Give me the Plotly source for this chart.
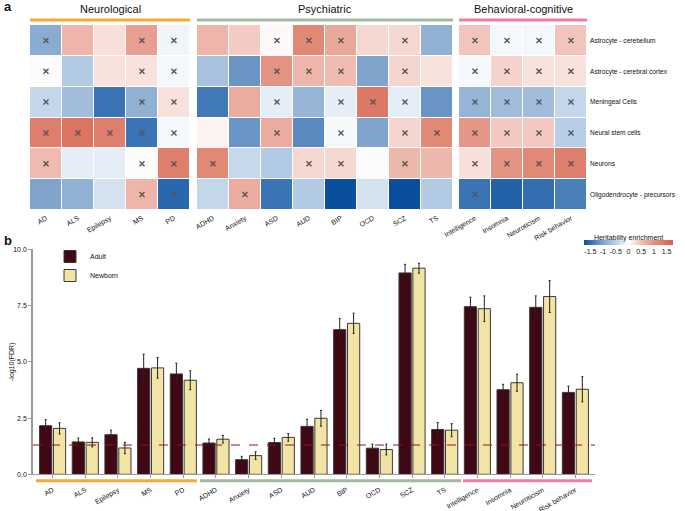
import plotly.graph_objects as go

W, H = 685, 511
def px(x): return x / W
def py(y): return 1 - y / H

neuro = ["AD", "ALS", "Epilepsy", "MS", "PD"]
psych = ["ADHD", "Anxiety", "ASD", "AUD", "BIP", "OCD", "SCZ", "TS"]
behav = ["Intelligence", "Insomnia", "Neuroticism", "Risk behavior"]
traits = neuro + psych + behav
cell_types = ["Astrocyte - cerebellum", "Astrocyte - cerebral cortex", "Meningeal Cells",
              "Neural stem cells", "Neurons", "Oligodendrocyte - precursors"]

# heritability enrichment (rows = cell types, columns = traits)
enrich = [
    [-0.9, 0.6, 0.25, 0.85, -0.1, 0.6, 0.4, 0.05, 1.15, 0.75, 0.3, 0.3, -0.85, 0.45, -0.08, -0.08, 0.45],
    [0.03, -0.55, 0.22, 0.22, -0.08, -0.65, -1.15, 1.0, 0.6, 0.55, -1.0, 0.32, 0.22, -0.08, 0.35, 0.22, 0.22],
    [-0.42, -0.7, -1.45, -0.85, 0.22, -1.4, 0.7, -0.18, -0.8, -0.18, 1.4, -0.18, -1.15, -0.8, -0.7, -0.7, -0.42],
    [1.3, 1.45, 1.3, -1.45, -0.08, 0.1, -1.15, 0.72, -1.25, -0.06, -1.0, 0.32, 1.15, 0.95, 0.42, 0.42, -0.5],
    [0.55, -0.18, -0.18, 0.03, 1.3, 1.15, -0.4, -0.55, 0.3, 0.3, 0.03, 0.58, 0.58, 0.25, 1.0, 1.15, 1.3],
    [-1.0, -0.85, -0.3, 0.6, -1.55, -0.42, 0.7, -1.45, -0.55, -1.75, -0.3, -1.75, -0.55, -1.45, -1.6, -1.5, -1.35],
]
# cells marked with a cross
marked = [
    [1, 0, 0, 1, 1, 0, 0, 1, 1, 1, 0, 1, 0, 1, 1, 1, 1],
    [1, 0, 0, 1, 1, 0, 0, 1, 1, 1, 0, 1, 0, 1, 1, 1, 1],
    [1, 0, 0, 1, 1, 0, 0, 1, 0, 1, 1, 1, 0, 1, 1, 1, 1],
    [1, 1, 1, 1, 1, 0, 0, 1, 0, 1, 0, 1, 1, 1, 1, 1, 1],
    [1, 0, 0, 1, 1, 1, 0, 0, 1, 1, 0, 1, 0, 1, 1, 1, 1],
    [0, 0, 0, 1, 1, 0, 1, 0, 0, 0, 0, 0, 0, 1, 0, 0, 0],
]

# -log10(FDR)
adult = [2.16, 1.44, 1.76, 4.71, 4.46, 1.39, 0.65, 1.41, 2.13, 6.43, 1.16, 8.95, 1.99, 7.45, 3.76, 7.42, 3.64]
adult_err = [0.27, 0.17, 0.2, 0.63, 0.48, 0.18, 0.15, 0.19, 0.32, 0.49, 0.18, 0.38, 0.31, 0.42, 0.24, 0.51, 0.28]
newborn = [2.04, 1.42, 1.17, 4.73, 4.18, 1.56, 0.83, 1.64, 2.49, 6.71, 1.1, 9.16, 1.96, 7.36, 4.07, 7.9, 3.78]
newborn_err = [0.25, 0.2, 0.25, 0.46, 0.42, 0.17, 0.17, 0.17, 0.35, 0.45, 0.24, 0.22, 0.29, 0.57, 0.38, 0.71, 0.56]
fdr_threshold = 1.301

groups = ["Neurological", "Psychiatric", "Behavioral-cognitive"]
group_traits = [neuro, psych, behav]
group_colors = ["#F7A936", "#A3B7A1", "#F57AA6"]

colorscale = [[0.0, "#0a4f9e"], [0.0857, "#3a74b4"], [0.2143, "#80a4cc"], [0.357, "#b8cee6"],
              [0.5, "#ffffff"], [0.643, "#f0beb4"], [0.786, "#e49282"], [1.0, "#d6604d"]]

FONT = "Liberation Sans, Arial, sans-serif"
fig = go.Figure()

offset = 0
for gi, tl in enumerate(group_traits):
    n = len(tl)
    z = [row[offset:offset + n] for row in enrich]
    xa = "x" if gi == 0 else f"x{gi + 1}"
    fig.add_trace(go.Heatmap(
        z=z, x=tl, y=cell_types, xaxis=xa, yaxis="y",
        colorscale=colorscale, zmin=-1.75, zmax=1.75, xgap=1, ygap=1,
        showscale=(gi == 0), hoverinfo="skip",
        colorbar=dict(orientation="h", x=px(628.5), xanchor="center", y=py(241.5), yanchor="middle",
                      len=89, lenmode="pixels", thickness=5, outlinewidth=0,
                      title=dict(text="Heritability enrichment", side="top", font=dict(size=7, family=FONT)),
                      tickvals=[-1.5, -1, -0.5, 0, 0.5, 1, 1.5],
                      ticktext=["-1.5", "-1", "-0.5", "0", "0.5", "1", "1.5"],
                      ticks="", tickfont=dict(size=7, family=FONT), ypad=0, xpad=0),
    ))
    mx, my = [], []
    for r, ct in enumerate(cell_types):
        for c, t in enumerate(tl):
            if marked[r][offset + c]:
                mx.append(t); my.append(ct)
    fig.add_trace(go.Scatter(x=mx, y=my, xaxis=xa, yaxis="y", mode="markers",
                             marker=dict(symbol="x-thin", size=5, line=dict(width=1.4, color="#555555")),
                             showlegend=False, hoverinfo="skip"))
    offset += n

fig.add_trace(go.Bar(x=traits, y=adult, name="Adult", xaxis="x4", yaxis="y4",
                     marker=dict(color="#400714", line=dict(color="#3a3a3a", width=1)),
                     error_y=dict(type="data", array=adult_err, color="#222222", thickness=1, width=1)))
fig.add_trace(go.Bar(x=traits, y=newborn, name="Newborn", xaxis="x4", yaxis="y4",
                     marker=dict(color="#F2E4A4", line=dict(color="#3a3a3a", width=1)),
                     error_y=dict(type="data", array=newborn_err, color="#222222", thickness=1, width=1)))

hx_domains = [[px(30), px(190)], [px(197), px(453)], [px(459), px(587)]]
hy_domain = [py(210), py(25)]
tickfont = dict(size=7, family=FONT, color="#111111")
axcommon = dict(showgrid=False, zeroline=False, showline=False, ticks="", tickangle=-30,
                tickfont=tickfont, type="category", automargin=False, ticklabelstandoff=2)
layout = dict(
    width=W, height=H, margin=dict(l=0, r=0, t=0, b=0, autoexpand=False),
    paper_bgcolor="white", plot_bgcolor="white",
    font=dict(family=FONT, color="#111111"),
    barmode="group", bargap=0.15, bargroupgap=0.12,
    xaxis=dict(domain=hx_domains[0], anchor="y", **axcommon),
    xaxis2=dict(domain=hx_domains[1], anchor="y", **axcommon),
    xaxis3=dict(domain=hx_domains[2], anchor="y", **axcommon),
    yaxis=dict(domain=hy_domain, anchor="x3", side="right", autorange="reversed", showgrid=False,
               zeroline=False, ticks="", tickfont=dict(size=6.6, family=FONT, color="#111111"),
               type="category", automargin=False, ticklabelstandoff=2),
    xaxis4=dict(domain=[px(33), px(595)], anchor="y4", type="category", range=[-0.6, 16.6],
                showline=True, linecolor="#9a9a9a", linewidth=1, ticks="outside", ticklen=3,
                tickcolor="#9a9a9a", tickangle=-30, tickfont=tickfont, ticklabelstandoff=5,
                showgrid=False, zeroline=False, automargin=False),
    yaxis4=dict(domain=[py(474.3), py(249.3)], anchor="x4", range=[0, 10.0],
                tickvals=[0, 2.5, 5, 7.5, 10], ticktext=["0.0", "2.5", "5.0", "7.5", "10.0"],
                showline=True, linecolor="#9a9a9a", linewidth=1.5, ticks="outside", ticklen=3,
                tickcolor="#9a9a9a", tickfont=tickfont, showgrid=False, zeroline=False,
                automargin=False),
    legend=dict(x=px(50), y=py(242), xanchor="left", yanchor="top", font=dict(size=7, family=FONT),
                bgcolor="rgba(0,0,0,0)", tracegroupgap=0),
    showlegend=True,
)
fig.update_layout(**layout)

shapes = []
annotations = []
for gi, (g, col) in enumerate(zip(groups, group_colors)):
    d = hx_domains[gi]
    shapes.append(dict(type="rect", xref="paper", yref="paper", x0=d[0], x1=d[1],
                       y0=py(21.5), y1=py(18.5), fillcolor=col, line=dict(width=0)))
    annotations.append(dict(text=g, xref="paper", yref="paper", x=(d[0] + d[1]) / 2, y=py(9),
                            showarrow=False, font=dict(size=11, family=FONT, color="#111111"),
                            xanchor="center", yanchor="middle"))
for (x0, x1), col in zip([(36, 197), (200, 461), (463, 592)], group_colors):
    shapes.append(dict(type="rect", xref="paper", yref="paper", x0=px(x0), x1=px(x1),
                       y0=py(482.2), y1=py(479.2), fillcolor=col, line=dict(width=0)))
shapes.append(dict(type="line", xref="x4 domain", yref="y4", x0=0, x1=1, y0=fdr_threshold,
                   y1=fdr_threshold, line=dict(color="#8b1a1a", width=1, dash="dash")))
annotations.append(dict(text="-log10(FDR)", xref="paper", yref="paper", x=px(12), y=py(362),
                        showarrow=False, textangle=-90, font=dict(size=7, family=FONT),
                        xanchor="center", yanchor="middle"))
annotations.append(dict(text="<b>a</b>", xref="paper", yref="paper", x=px(2), y=py(6), showarrow=False,
                        font=dict(size=13, family=FONT), xanchor="left", yanchor="middle"))
annotations.append(dict(text="<b>b</b>", xref="paper", yref="paper", x=px(2), y=py(241), showarrow=False,
                        font=dict(size=13, family=FONT), xanchor="left", yanchor="middle"))
fig.update_layout(shapes=shapes, annotations=annotations)

fig.write_html("out.html", config={"displayModeBar": False},
               post_script="document.body.style.margin='0';document.body.style.overflow='hidden';")
